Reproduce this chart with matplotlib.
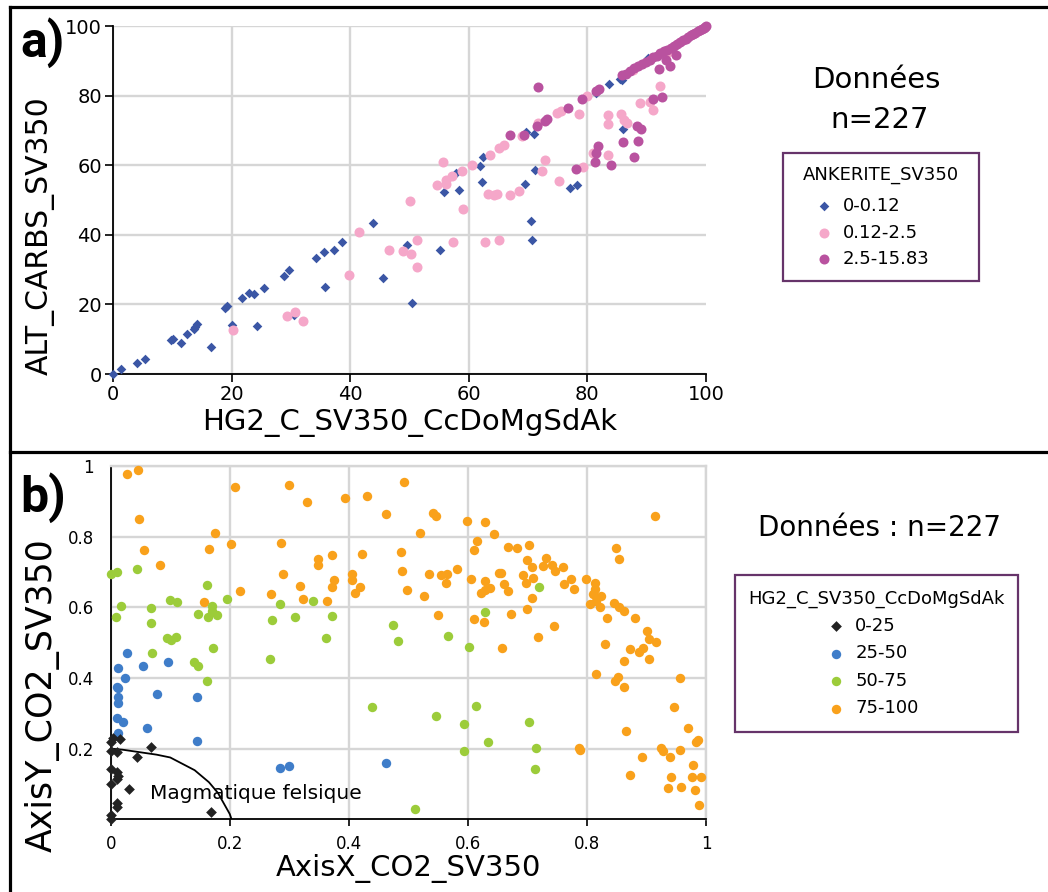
import matplotlib.pyplot as plt
from matplotlib.lines import Line2D

plt.rcParams['font.family'] = 'DejaVu Sans'

# ---- a) ALT_CARBS_SV350 vs HG2_C_SV350_CcDoMgSdAk, classes ANKERITE_SV350
ank_labels = ["0-0.12", "0.12-2.5", "2.5-15.83"]
ank_colors = ["#3b56a5", "#f5a7c9", "#b9529f"]

ank0_x = [0, 1.3, 4.1, 5.4, 9.7, 10.2, 11.5, 12.5, 13.6, 14.2, 13.9, 16.5, 18.9, 19.3, 20, 21.8,
          23, 23.8, 24.2, 25.5, 28.8, 29.6, 30.6, 34.2, 35.6, 35.8, 37.3, 38.6, 43.9, 45.5, 49.6,
          50.5, 55.1, 55.9, 57.9, 58.4, 61.9, 62.2, 62.4, 69.4, 69.7, 71, 70.5, 70.7, 71.2, 77,
          78.2, 81.5, 83.6, 85.5, 85.9, 86, 90.3]
ank0_y = [0, 1.4, 3.1, 4.4, 9.8, 10.1, 9.0, 11.5, 12.9, 14.3, 13.6, 7.7, 19.1, 19.5, 14.1, 21.8,
          23.2, 23, 13.8, 24.7, 28.2, 29.8, 17, 33.4, 35, 24.9, 35.5, 37.9, 43.3, 27.7, 37.1,
          20.3, 35.5, 52.3, 57.8, 52.8, 59.9, 55.3, 62.4, 54.7, 69.4, 69, 44, 38.4, 58.6, 53.4,
          54.4, 80.7, 83.3, 84.9, 84.6, 70.4, 90.8]

ank1_x = [20.2, 29.3, 30.7, 32.1, 39.8, 41.5, 46.6, 48.9, 50, 50.3, 51.2, 51.2, 55.7, 54.7, 56.2,
          57.1, 56.2, 59.1, 57.4, 62.8, 65.1, 63.5, 65.1, 65.9, 63.3, 64.7, 64.3, 67, 68.4, 68.9,
          72.3, 72.9, 71.7, 75.2, 74.9, 75.6, 78.6, 79.3, 79.9, 80.9, 83.4, 83.4, 83.4, 85.7,
          86.2, 86.7, 88.8, 90.6, 91.1, 92.2, 87.7, 93.6, 58.8, 60.5]
ank1_y = [12.6, 16.7, 17.8, 15.3, 28.4, 40.9, 35.5, 35.3, 49.6, 34.4, 38.5, 30.8, 60.9, 54.4, 55.7,
          56.9, 54.6, 47.5, 37.9, 37.9, 38.6, 62.8, 64.8, 65.7, 51.8, 51.6, 51.3, 51.4, 52.6, 68.4,
          58.2, 61.5, 72, 55.5, 74.9, 75.7, 74.6, 59.4, 79.9, 63.4, 74.4, 71.7, 62.8, 74.6,
          73.1, 72, 78, 78.2, 76, 82.7, 87.4, 92.6, 58.3, 60.2]

ank2_x = [71.7, 67, 69.3, 71.5, 72.9, 73.2, 76.8, 79.1, 81.5, 81.9, 78, 81.8, 81.5, 81.2, 84, 86,
          88.6, 87.8, 88.4, 89.1, 91.1, 92.6, 92, 93.2, 93.9, 94.9,
          85.8, 86.5, 87.2, 87.9, 88.5, 89.2, 89.8, 90.5, 91.1, 91.7, 92.3, 92.9, 93.5, 94.1,
          94.6, 95.1, 95.6, 96.1, 96.6, 97.0, 97.4, 97.8, 98.2, 98.6, 99.0, 99.3, 99.6, 99.8, 100]
ank2_y = [82.6, 68.7, 68.7, 71.3, 72.8, 73.2, 76.5, 79, 81.4, 81.9, 58.8, 65.5, 63.4, 60.9, 60, 66.7,
          67, 62.3, 71.3, 70.3, 79, 79.7, 87.6, 90.1, 88.5, 91.8,
          85.9, 86.3, 87.0, 87.8, 88.4, 89.0, 89.7, 90.3, 91.0, 91.5, 92.1, 92.8, 93.2, 93.8,
          94.2, 94.9, 95.3, 95.9, 96.4, 96.8, 97.3, 97.6, 98.1, 98.5, 98.9, 99.2, 99.5, 99.8, 100]

# ---- b) AxisY_CO2_SV350 vs AxisX_CO2_SV350, classes HG2_C_SV350_CcDoMgSdAk
hg2_labels = ["0-25", "25-50", "50-75", "75-100"]
hg2_colors = ["#222222", "#3f7dc9", "#9ccc3a", "#f9a11b"]

hg0_x = [0, 0, 0.01, 0.011, 0, 0.01, 0.013, 0, 0.01, 0, 0.01, 0, 0.004, 0.015, 0.03, 0.044,
         0.068, 0.168]
hg0_y = [0, 0.012, 0.045, 0.035, 0.099, 0.114, 0.123, 0.143, 0.135, 0.194, 0.191, 0.219, 0.229,
         0.226, 0.086, 0.177, 0.205, 0.02]

hg1_x = [0.027, 0.013, 0.024, 0.01, 0.013, 0.013, 0.013, 0.01, 0.02, 0.013, 0.054, 0.097, 0.077,
         0.061, 0.145, 0.145, 0.284, 0.299, 0.462]
hg1_y = [0.47, 0.427, 0.399, 0.375, 0.373, 0.345, 0.328, 0.286, 0.275, 0.243, 0.434, 0.445, 0.355,
         0.258, 0.345, 0.222, 0.146, 0.152, 0.158]

hg2_x = [0, 0.011, 0.044, 0.018, 0.009, 0.067, 0.067, 0.069, 0.099, 0.111, 0.094, 0.102, 0.11,
         0.14, 0.147, 0.161, 0.147, 0.164, 0.171, 0.171, 0.179, 0.172, 0.161, 0.195, 0.267,
         0.271, 0.284, 0.309, 0.339, 0.362, 0.371, 0.439, 0.474, 0.482, 0.72, 0.629, 0.567,
         0.602, 0.614, 0.547, 0.593, 0.593, 0.634, 0.703, 0.715, 0.712, 0.512]
hg2_y = [0.694, 0.701, 0.708, 0.605, 0.572, 0.597, 0.556, 0.47, 0.621, 0.616, 0.514, 0.507, 0.515,
         0.446, 0.435, 0.663, 0.581, 0.572, 0.605, 0.589, 0.578, 0.486, 0.391, 0.624, 0.455,
         0.564, 0.61, 0.573, 0.619, 0.512, 0.575, 0.317, 0.549, 0.505, 0.657, 0.586, 0.519,
         0.487, 0.32, 0.292, 0.271, 0.194, 0.22, 0.275, 0.203, 0.142, 0.03]

hg3_x = [0.028, 0.046, 0.047, 0.056, 0.083, 0.156, 0.165, 0.176, 0.202, 0.208, 0.217, 0.27, 0.286,
         0.289, 0.299, 0.318, 0.323, 0.329, 0.348, 0.348, 0.363, 0.371, 0.372, 0.375, 0.394,
         0.405, 0.406, 0.41, 0.419, 0.422, 0.431, 0.462, 0.488, 0.49, 0.493, 0.497,
         0.542, 0.546, 0.519, 0.527, 0.535, 0.555, 0.565, 0.563, 0.582, 0.55, 0.598, 0.629,
         0.644, 0.616, 0.611, 0.605, 0.629, 0.622, 0.629, 0.637, 0.611, 0.627, 0.652, 0.655,
         0.66, 0.668, 0.673, 0.658, 0.668, 0.682, 0.703, 0.7, 0.707, 0.693, 0.697, 0.71, 0.707,
         0.7, 0.717, 0.731, 0.727, 0.741, 0.747, 0.759, 0.761, 0.773, 0.779, 0.745, 0.799,
         0.813, 0.813, 0.811, 0.824, 0.805, 0.816, 0.822, 0.834, 0.83, 0.848, 0.854, 0.846,
         0.854, 0.862, 0.881, 0.901, 0.905, 0.916, 0.872, 0.888, 0.894, 0.905, 0.862, 0.816,
         0.852, 0.847, 0.863, 0.914, 0.956, 0.946, 0.969, 0.984, 0.986, 0.866, 0.787, 0.788,
         0.893, 0.925, 0.928, 0.939, 0.957, 0.979, 0.872, 0.941, 0.976, 0.991, 0.936, 0.958,
         0.981, 0.988]
hg3_y = [0.977, 0.99, 0.85, 0.762, 0.721, 0.615, 0.766, 0.811, 0.778, 0.941, 0.646, 0.637, 0.783,
         0.694, 0.945, 0.661, 0.623, 0.898, 0.737, 0.721, 0.618, 0.747, 0.658, 0.676, 0.91,
         0.694, 0.677, 0.64, 0.657, 0.752, 0.916, 0.865, 0.757, 0.702, 0.955, 0.648,
         0.868, 0.858, 0.811, 0.632, 0.695, 0.692, 0.694, 0.67, 0.708, 0.577, 0.845, 0.841,
         0.808, 0.788, 0.762, 0.679, 0.675, 0.64, 0.649, 0.655, 0.568, 0.559, 0.696, 0.696,
         0.666, 0.646, 0.58, 0.484, 0.771, 0.768, 0.777, 0.733, 0.713, 0.692, 0.668, 0.682, 0.627,
         0.595, 0.515, 0.741, 0.717, 0.72, 0.703, 0.714, 0.667, 0.679, 0.651, 0.546, 0.681,
         0.668, 0.653, 0.639, 0.632, 0.61, 0.619, 0.602, 0.569, 0.495, 0.769, 0.736, 0.611,
         0.602, 0.59, 0.569, 0.534, 0.51, 0.501, 0.482, 0.473, 0.484, 0.454, 0.449, 0.411,
         0.404, 0.392, 0.374, 0.858, 0.399, 0.317, 0.258, 0.22, 0.224, 0.249, 0.203, 0.196,
         0.175, 0.201, 0.194, 0.176, 0.196, 0.153, 0.125, 0.121, 0.119, 0.119, 0.088, 0.091,
         0.083, 0.041]

# felsic magmatic field boundary
felsic_x = [0, 0.02, 0.077, 0.10, 0.141, 0.165, 0.18, 0.20, 0.203]
felsic_y = [0.2, 0.197, 0.183, 0.175, 0.139, 0.105, 0.075, 0.015, 0]

W, H = 1048, 892
fig = plt.figure(figsize=(W / 100, H / 100), dpi=100)


def px(x, y):
    return x / W, 1 - y / H


grid_c = "#d6d6d6"

# ---------------- panel a
ax1 = fig.add_axes([113 / W, 1 - 374 / H, 593 / W, 348 / H])
ax1.scatter(ank0_x, ank0_y, marker="D", s=24, color=ank_colors[0], lw=0, clip_on=False,
            zorder=3, label=ank_labels[0])
ax1.scatter(ank1_x, ank1_y, marker="o", s=52, color=ank_colors[1], lw=0, clip_on=False,
            zorder=3, label=ank_labels[1])
ax1.scatter(ank2_x, ank2_y, marker="o", s=52, color=ank_colors[2], lw=0, clip_on=False,
            zorder=3, label=ank_labels[2])
ax1.set_xlim(0, 100)
ax1.set_ylim(0, 100)
ax1.set_xticks([0, 20, 40, 60, 80, 100])
ax1.set_yticks([0, 20, 40, 60, 80, 100])
ax1.grid(color=grid_c, lw=1.7)
ax1.set_axisbelow(True)
ax1.xaxis.get_gridlines()[-1].set_visible(False)
for s in ["top", "right"]:
    ax1.spines[s].set_visible(False)
for s in ["left", "bottom"]:
    ax1.spines[s].set_linewidth(1.3)
ax1.tick_params(labelsize=14, length=6, width=1.2, pad=2)
ax1.set_xlabel("HG2_C_SV350_CcDoMgSdAk", fontsize=21)
ax1.xaxis.set_label_coords(0.5, -(408 - 374) / 348)
fig.text(*px(40, 236), "ALT_CARBS_SV350", fontsize=21.5, rotation=90, ha="center", va="center")

leg1 = ax1.legend(title="ANKERITE_SV350", loc="upper left",
                  bbox_to_anchor=(782.7 / W, 1 - 284.3 / H, 196.6 / W, 131.6 / H),
                  bbox_transform=fig.transFigure, mode="expand", borderaxespad=0,
                  fontsize=13, title_fontsize=13, scatterpoints=1, borderpad=0.72,
                  labelspacing=0.47, handlelength=3.11, handletextpad=-0.5,
                  fancybox=False, edgecolor="#66346a", framealpha=1)
leg1.get_frame().set_linewidth(1.6)
leg1._legend_box.sep = 9.5  # a little more room under the title (points)

fig.text(*px(876, 80), "Données", fontsize=21, ha="center", va="center")
fig.text(*px(880, 120), "n=227", fontsize=21, ha="center", va="center")

# ---------------- panel b
ax2 = fig.add_axes([110.7 / W, 1 - 819.3 / H, 595.3 / W, 353.3 / H])
ax2.plot(felsic_x, felsic_y, color="black", lw=1.3, zorder=2)
ax2.scatter(hg3_x, hg3_y, marker="o", s=46, color=hg2_colors[3], lw=0, clip_on=False,
            zorder=3, label=hg2_labels[3])
ax2.scatter(hg2_x, hg2_y, marker="o", s=46, color=hg2_colors[2], lw=0, clip_on=False,
            zorder=3, label=hg2_labels[2])
ax2.scatter(hg1_x, hg1_y, marker="o", s=46, color=hg2_colors[1], lw=0, clip_on=False,
            zorder=3, label=hg2_labels[1])
ax2.scatter(hg0_x, hg0_y, marker="D", s=30, color=hg2_colors[0], lw=0, clip_on=False,
            zorder=4, label=hg2_labels[0])
ax2.text(0.066, 0.074, "Magmatique felsique", fontsize=14.5, ha="left", va="center")
ax2.set_xlim(0, 1)
ax2.set_ylim(0, 1)
ax2.set_xticks([0, 0.2, 0.4, 0.6, 0.8, 1])
ax2.set_xticklabels(["0", "0.2", "0.4", "0.6", "0.8", "1"])
ax2.set_yticks([0.2, 0.4, 0.6, 0.8, 1])
ax2.set_yticklabels(["0.2", "0.4", "0.6", "0.8", "1"])
ax2.grid(color=grid_c, lw=1.7)
ax2.set_axisbelow(True)
for s in ["top", "right"]:
    ax2.spines[s].set_color(grid_c)
    ax2.spines[s].set_linewidth(1.7)
for s in ["left", "bottom"]:
    ax2.spines[s].set_linewidth(1.3)
ax2.tick_params(axis="x", labelsize=12, length=5, width=1.2, pad=6)
ax2.tick_params(axis="y", labelsize=12, length=0, pad=12)
ax2.set_xlabel("AxisX_CO2_SV350", fontsize=21)
ax2.xaxis.set_label_coords(0.5, -(854 - 819.3) / 353.3)
fig.text(*px(42, 695), "AxisY_CO2_SV350", fontsize=25, rotation=90, ha="center", va="center")

h, l = ax2.get_legend_handles_labels()
order = [3, 2, 1, 0]
leg2 = ax2.legend([h[i] for i in order], [l[i] for i in order],
                  title="HG2_C_SV350_CcDoMgSdAk", loc="upper left",
                  bbox_to_anchor=(735 / W, 1 - 733 / H, 283 / W, 158 / H),
                  bbox_transform=fig.transFigure, mode="expand", borderaxespad=0,
                  fontsize=13, title_fontsize=13, scatterpoints=1, borderpad=0.8,
                  labelspacing=0.52, handlelength=9.62, handletextpad=-3.76,
                  fancybox=False, edgecolor="#66346a", framealpha=1)
leg2.get_frame().set_linewidth(1.6)

fig.text(*px(880, 528), "Données : n=227", fontsize=20, ha="center", va="center")

# panel labels
fig.text(*px(20, 57), "a)", fontsize=36, fontweight="bold", family="Roboto", va="baseline")
fig.text(*px(20, 512), "b)", fontsize=36, fontweight="bold", family="Roboto", va="baseline")

# frame lines around and between the panels
for xs, ys in [((10, W), (7, 7)), ((10, 10), (7, H)), ((10, W), (452, 452))]:
    fig.add_artist(Line2D([x / W for x in xs], [1 - y / H for y in ys],
                          color="black", lw=2.3, solid_capstyle="projecting"))

fig.savefig("out.png", dpi=100)
